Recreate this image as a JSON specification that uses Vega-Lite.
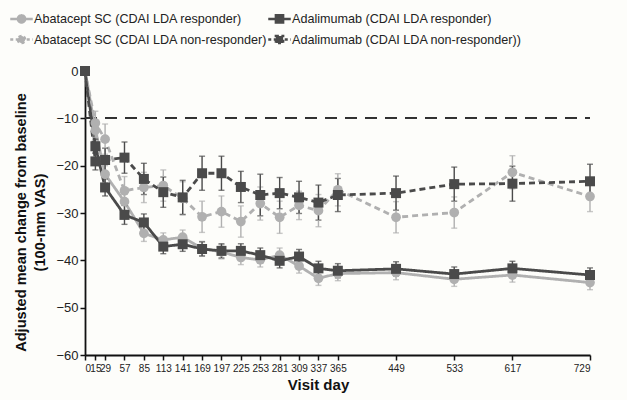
{
  "$schema": "https://vega.github.io/schema/vega-lite/v6.json",
  "autosize": {"type": "none"},
  "width": 505,
  "height": 284,
  "padding": {"left": 85, "top": 71, "right": 37, "bottom": 45},
  "background": "#fdfdfa",
  "config": {
    "font": "Liberation Sans",
    "view": {"stroke": null},
    "axis": {"grid": false, "domainColor": "#111", "tickColor": "#111", "labelColor": "#222", "titleColor": "#111", "domainWidth": 1.8, "tickWidth": 1.5},
    "axisX": {"labelOverlap": false, "labelFontSize": 10, "labelPadding": 3, "tickSize": 5, "titleFontSize": 15, "titleFontWeight": "bold", "titlePadding": 4},
    "axisY": {"labelFontSize": 13, "tickSize": 5, "labelPadding": 2, "titleFontSize": 14.6, "titleFontWeight": "bold", "titlePadding": 8, "titleLineHeight": 19}
  },
  "data": {"values": [
    {"series": "Abatacept SC (CDAI LDA responder)", "day": 0, "v": 0, "lo": 0, "hi": 0},
    {"series": "Abatacept SC (CDAI LDA responder)", "day": 15, "v": -12.5, "lo": -14.0, "hi": -11.0},
    {"series": "Abatacept SC (CDAI LDA responder)", "day": 29, "v": -21.8, "lo": -23.6, "hi": -20.0},
    {"series": "Abatacept SC (CDAI LDA responder)", "day": 57, "v": -27.6, "lo": -29.4, "hi": -25.8},
    {"series": "Abatacept SC (CDAI LDA responder)", "day": 85, "v": -34.3, "lo": -36.0, "hi": -32.6},
    {"series": "Abatacept SC (CDAI LDA responder)", "day": 113, "v": -35.7, "lo": -37.2, "hi": -34.2},
    {"series": "Abatacept SC (CDAI LDA responder)", "day": 141, "v": -35.1, "lo": -36.6, "hi": -33.6},
    {"series": "Abatacept SC (CDAI LDA responder)", "day": 169, "v": -37.5, "lo": -39.0, "hi": -36.0},
    {"series": "Abatacept SC (CDAI LDA responder)", "day": 197, "v": -38.2, "lo": -39.7, "hi": -36.7},
    {"series": "Abatacept SC (CDAI LDA responder)", "day": 225, "v": -39.4, "lo": -40.9, "hi": -37.9},
    {"series": "Abatacept SC (CDAI LDA responder)", "day": 253, "v": -39.9, "lo": -41.4, "hi": -38.4},
    {"series": "Abatacept SC (CDAI LDA responder)", "day": 281, "v": -38.9, "lo": -40.4, "hi": -37.4},
    {"series": "Abatacept SC (CDAI LDA responder)", "day": 309, "v": -41.2, "lo": -42.7, "hi": -39.7},
    {"series": "Abatacept SC (CDAI LDA responder)", "day": 337, "v": -43.8, "lo": -45.3, "hi": -42.3},
    {"series": "Abatacept SC (CDAI LDA responder)", "day": 365, "v": -42.8, "lo": -44.3, "hi": -41.3},
    {"series": "Abatacept SC (CDAI LDA responder)", "day": 449, "v": -42.6, "lo": -44.1, "hi": -41.1},
    {"series": "Abatacept SC (CDAI LDA responder)", "day": 533, "v": -44.0, "lo": -45.5, "hi": -42.5},
    {"series": "Abatacept SC (CDAI LDA responder)", "day": 617, "v": -43.1, "lo": -44.6, "hi": -41.6},
    {"series": "Abatacept SC (CDAI LDA responder)", "day": 729, "v": -44.7, "lo": -46.2, "hi": -43.2},

    {"series": "Adalimumab (CDAI LDA responder)", "day": 0, "v": 0, "lo": 0, "hi": 0},
    {"series": "Adalimumab (CDAI LDA responder)", "day": 15, "v": -15.9, "lo": -17.4, "hi": -14.4},
    {"series": "Adalimumab (CDAI LDA responder)", "day": 29, "v": -24.6, "lo": -26.4, "hi": -22.8},
    {"series": "Adalimumab (CDAI LDA responder)", "day": 57, "v": -30.4, "lo": -32.4, "hi": -28.4},
    {"series": "Adalimumab (CDAI LDA responder)", "day": 85, "v": -32.0, "lo": -33.8, "hi": -30.2},
    {"series": "Adalimumab (CDAI LDA responder)", "day": 113, "v": -37.1, "lo": -38.6, "hi": -35.6},
    {"series": "Adalimumab (CDAI LDA responder)", "day": 141, "v": -36.6, "lo": -38.1, "hi": -35.1},
    {"series": "Adalimumab (CDAI LDA responder)", "day": 169, "v": -37.6, "lo": -39.1, "hi": -36.1},
    {"series": "Adalimumab (CDAI LDA responder)", "day": 197, "v": -38.0, "lo": -39.5, "hi": -36.5},
    {"series": "Adalimumab (CDAI LDA responder)", "day": 225, "v": -38.0, "lo": -39.5, "hi": -36.5},
    {"series": "Adalimumab (CDAI LDA responder)", "day": 253, "v": -38.9, "lo": -40.4, "hi": -37.4},
    {"series": "Adalimumab (CDAI LDA responder)", "day": 281, "v": -40.1, "lo": -41.6, "hi": -38.6},
    {"series": "Adalimumab (CDAI LDA responder)", "day": 309, "v": -39.2, "lo": -40.7, "hi": -37.7},
    {"series": "Adalimumab (CDAI LDA responder)", "day": 337, "v": -41.7, "lo": -43.2, "hi": -40.2},
    {"series": "Adalimumab (CDAI LDA responder)", "day": 365, "v": -42.2, "lo": -43.7, "hi": -40.7},
    {"series": "Adalimumab (CDAI LDA responder)", "day": 449, "v": -41.8, "lo": -43.3, "hi": -40.3},
    {"series": "Adalimumab (CDAI LDA responder)", "day": 533, "v": -42.9, "lo": -44.4, "hi": -41.4},
    {"series": "Adalimumab (CDAI LDA responder)", "day": 617, "v": -41.7, "lo": -43.2, "hi": -40.2},
    {"series": "Adalimumab (CDAI LDA responder)", "day": 729, "v": -43.1, "lo": -44.6, "hi": -41.6},

    {"series": "Abatacept SC (CDAI LDA non-responder)", "day": 0, "v": 0, "lo": 0, "hi": 0},
    {"series": "Abatacept SC (CDAI LDA non-responder)", "day": 15, "v": -11.0, "lo": -13.5, "hi": -8.5},
    {"series": "Abatacept SC (CDAI LDA non-responder)", "day": 29, "v": -14.4, "lo": -17.6, "hi": -11.2},
    {"series": "Abatacept SC (CDAI LDA non-responder)", "day": 57, "v": -25.3, "lo": -28.3, "hi": -22.3},
    {"series": "Abatacept SC (CDAI LDA non-responder)", "day": 85, "v": -24.6, "lo": -27.8, "hi": -21.4},
    {"series": "Abatacept SC (CDAI LDA non-responder)", "day": 113, "v": -24.2, "lo": -27.5, "hi": -20.9},
    {"series": "Abatacept SC (CDAI LDA non-responder)", "day": 141, "v": -26.9, "lo": -30.4, "hi": -23.4},
    {"series": "Abatacept SC (CDAI LDA non-responder)", "day": 169, "v": -30.8, "lo": -34.1, "hi": -27.5},
    {"series": "Abatacept SC (CDAI LDA non-responder)", "day": 197, "v": -29.7, "lo": -33.0, "hi": -26.4},
    {"series": "Abatacept SC (CDAI LDA non-responder)", "day": 225, "v": -31.8, "lo": -35.1, "hi": -28.5},
    {"series": "Abatacept SC (CDAI LDA non-responder)", "day": 253, "v": -28.0, "lo": -31.5, "hi": -24.5},
    {"series": "Abatacept SC (CDAI LDA non-responder)", "day": 281, "v": -30.9, "lo": -34.3, "hi": -27.5},
    {"series": "Abatacept SC (CDAI LDA non-responder)", "day": 309, "v": -28.4, "lo": -31.4, "hi": -25.4},
    {"series": "Abatacept SC (CDAI LDA non-responder)", "day": 337, "v": -29.5, "lo": -32.9, "hi": -26.1},
    {"series": "Abatacept SC (CDAI LDA non-responder)", "day": 365, "v": -25.1, "lo": -28.5, "hi": -21.7},
    {"series": "Abatacept SC (CDAI LDA non-responder)", "day": 449, "v": -30.9, "lo": -34.2, "hi": -27.6},
    {"series": "Abatacept SC (CDAI LDA non-responder)", "day": 533, "v": -29.9, "lo": -33.2, "hi": -26.6},
    {"series": "Abatacept SC (CDAI LDA non-responder)", "day": 617, "v": -21.4, "lo": -24.9, "hi": -17.9},
    {"series": "Abatacept SC (CDAI LDA non-responder)", "day": 729, "v": -26.5, "lo": -29.7, "hi": -23.3},

    {"series": "Adalimumab (CDAI LDA non-responder))", "day": 0, "v": 0, "lo": 0, "hi": 0},
    {"series": "Adalimumab (CDAI LDA non-responder))", "day": 15, "v": -19.1, "lo": -20.9, "hi": -17.3},
    {"series": "Adalimumab (CDAI LDA non-responder))", "day": 29, "v": -18.8, "lo": -21.3, "hi": -16.3},
    {"series": "Adalimumab (CDAI LDA non-responder))", "day": 57, "v": -18.3, "lo": -21.6, "hi": -15.0},
    {"series": "Adalimumab (CDAI LDA non-responder))", "day": 85, "v": -22.8, "lo": -26.1, "hi": -19.5},
    {"series": "Adalimumab (CDAI LDA non-responder))", "day": 113, "v": -25.6, "lo": -28.8, "hi": -22.4},
    {"series": "Adalimumab (CDAI LDA non-responder))", "day": 141, "v": -26.7, "lo": -30.3, "hi": -23.1},
    {"series": "Adalimumab (CDAI LDA non-responder))", "day": 169, "v": -21.6, "lo": -25.2, "hi": -18.0},
    {"series": "Adalimumab (CDAI LDA non-responder))", "day": 197, "v": -21.6, "lo": -25.2, "hi": -18.0},
    {"series": "Adalimumab (CDAI LDA non-responder))", "day": 225, "v": -24.5, "lo": -27.8, "hi": -21.2},
    {"series": "Adalimumab (CDAI LDA non-responder))", "day": 253, "v": -26.2, "lo": -30.6, "hi": -21.8},
    {"series": "Adalimumab (CDAI LDA non-responder))", "day": 281, "v": -25.8, "lo": -29.1, "hi": -22.5},
    {"series": "Adalimumab (CDAI LDA non-responder))", "day": 309, "v": -26.7, "lo": -30.1, "hi": -23.3},
    {"series": "Adalimumab (CDAI LDA non-responder))", "day": 337, "v": -27.8, "lo": -31.5, "hi": -24.1},
    {"series": "Adalimumab (CDAI LDA non-responder))", "day": 365, "v": -26.2, "lo": -29.7, "hi": -22.7},
    {"series": "Adalimumab (CDAI LDA non-responder))", "day": 449, "v": -25.8, "lo": -29.4, "hi": -22.2},
    {"series": "Adalimumab (CDAI LDA non-responder))", "day": 533, "v": -23.9, "lo": -27.5, "hi": -20.3},
    {"series": "Adalimumab (CDAI LDA non-responder))", "day": 617, "v": -23.8, "lo": -27.5, "hi": -20.1},
    {"series": "Adalimumab (CDAI LDA non-responder))", "day": 729, "v": -23.3, "lo": -26.9, "hi": -19.7}
  ]},
  "encoding": {
    "x": {"field": "day", "type": "quantitative",
      "scale": {"domain": [0, 729], "nice": false, "zero": false},
      "axis": {"values": [0, 15, 29, 57, 85, 113, 141, 169, 197, 225, 253, 281, 309, 337, 365, 449, 533, 617, 729], "labelOverlap": false, "titleX": 233,
        "encode": {"labels": {"update": {"dx": {"signal": "datum.value == 0 ? -1 : datum.value == 29 ? 1.5 : 0"}}}}},
      "title": "Visit day"},
    "color": {"field": "series", "type": "nominal",
      "scale": {"domain": ["Abatacept SC (CDAI LDA responder)", "Abatacept SC (CDAI LDA non-responder)", "Adalimumab (CDAI LDA responder)", "Adalimumab (CDAI LDA non-responder))"],
        "range": ["#b0b0b0", "#b0b0b0", "#4a4a4a", "#4a4a4a"]},
      "legend": {"title": null, "orient": "none", "legendX": -74, "legendY": -63, "columns": 2, "columnPadding": -5, "rowPadding": 1,
        "labelFontSize": 12.6, "labelColor": "#222", "labelOffset": 2, "symbolSize": 324, "symbolStrokeWidth": 2.5,
        "labelLimit": 400,
        "encode": {"symbols": {"update": {
          "shape": {"signal": "indexof(datum.value, 'Abatacept') >= 0 ? 'M-1.25,0H1.25M-0.4,0A0.4,0.4 0 1,0 0.4,0A0.4,0.4 0 1,0 -0.4,0Z' : 'M-1.25,0H1.25M-0.4,-0.4H0.4V0.4H-0.4Z'"},
          "fill": {"scale": "color", "field": "value"},
          "stroke": {"scale": "color", "field": "value"},
          "strokeDash": {"signal": "indexof(datum.value, 'non-responder') >= 0 ? [3, 2.5] : [1, 0]"},
          "opacity": {"value": 1}
        }}}}}
  },
  "layer": [
    {
      "mark": {"type": "rule", "color": "#333", "strokeWidth": 1.3, "strokeDash": [12, 8]},
      "encoding": {
        "y": {"datum": -10, "type": "quantitative"},
        "x": {"datum": 0, "type": "quantitative"},
        "x2": {"datum": 729},
        "color": {"value": "#333"}
      }
    },
    {
      "mark": {"type": "line", "strokeWidth": 2.8},
      "encoding": {
        "y": {"field": "v", "type": "quantitative",
          "scale": {"domain": [-60, 0], "nice": false},
          "axis": {"values": [0, -10, -20, -30, -40, -50, -60], "titleY": 151},
          "title": ["Adjusted mean change from baseline", "(100-mm VAS)"]},
        "strokeDash": {"condition": {"test": "indexof(datum.series, 'non-responder') >= 0", "value": [6, 4]}, "value": [1, 0]}
      }
    },
    {
      "mark": {"type": "errorbar", "ticks": {"size": 6}, "thickness": 1.4},
      "encoding": {
        "y": {"field": "lo", "type": "quantitative", "title": ["Adjusted mean change from baseline", "(100-mm VAS)"]},
        "y2": {"field": "hi"}
      }
    },
    {
      "mark": {"type": "point", "filled": true, "opacity": 1},
      "encoding": {
        "y": {"field": "v", "type": "quantitative", "title": ["Adjusted mean change from baseline", "(100-mm VAS)"]},
        "shape": {"condition": {"test": "indexof(datum.series, 'Abatacept') >= 0", "value": "circle"}, "value": "square"},
        "size": {"condition": {"test": "indexof(datum.series, 'Abatacept') >= 0", "value": 95}, "value": 100}
      }
    }
  ]
}
